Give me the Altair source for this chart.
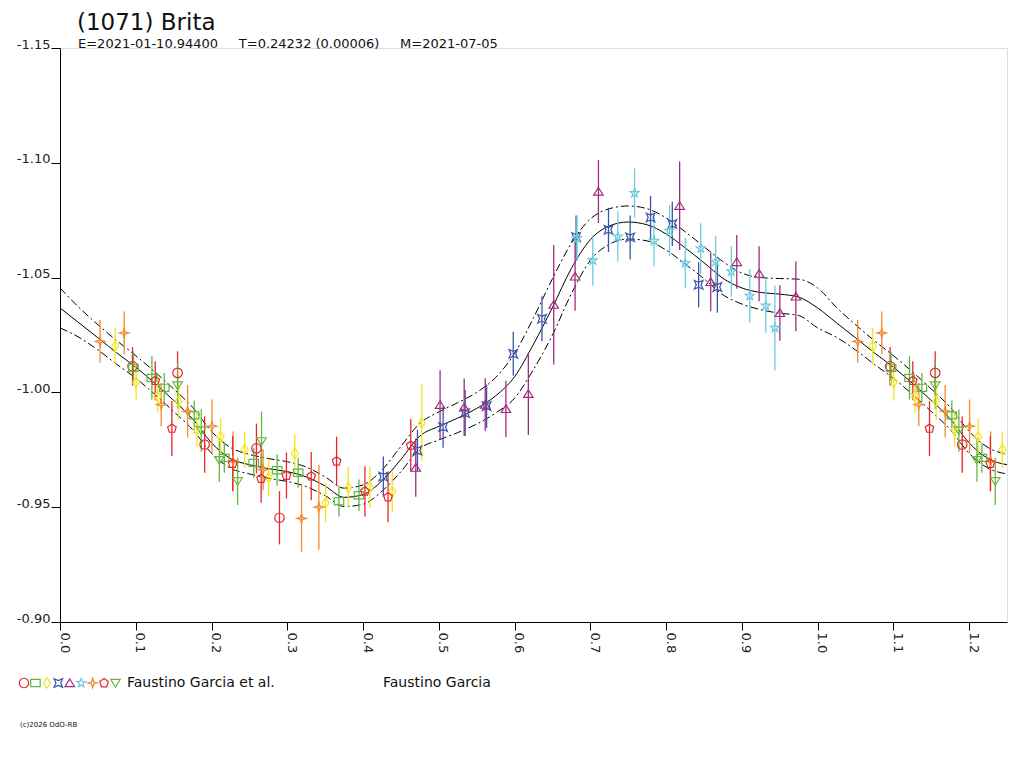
import altair as alt
import pandas as pd

FONT = "DejaVu Sans"

# ---------------- observations (phase, reduced magnitude, error) ----------------
rc_phase = [0.0957, 0.1552, 0.1909, 0.2593, 0.2897]
rc_mag = [-1.0114, -1.0085, -0.9773, -0.9756, -0.9454]
rc_err = [0.0084, 0.0094, 0.0123, 0.0108, 0.0116]

gs_phase = [0.0970, 0.1213, 0.1376, 0.1772, 0.2169, 0.2557, 0.2866, 0.3144, 0.3682, 0.3946]
gs_mag = [-1.0107, -1.0063, -1.0020, -0.9900, -0.9715, -0.9693, -0.9661, -0.9650, -0.9526, -0.9552]
gs_err = [0.0070, 0.0094, 0.0064, 0.0065, 0.0065, 0.0065, 0.0068, 0.0065, 0.0067, 0.0069]

yd_phase = [0.0728, 0.1005, 0.1287, 0.1565, 0.1808, 0.2120, 0.2438, 0.2755, 0.3099, 0.3505,
            0.3805, 0.4091, 0.4387, 0.4775]
yd_mag = [-1.0201, -1.0044, -0.9983, -0.9961, -0.9838, -0.9807, -0.9751, -0.9630, -0.9734, -0.9519,
          -0.9587, -0.9587, -0.9567, -0.9867]
yd_err = [0.0080, 0.0080, 0.0069, 0.0080, 0.0076, 0.0080, 0.0080, 0.0081, 0.0083, 0.0085,
          0.0088, 0.0090, 0.0090, 0.0167]

bx_phase = [0.4268, 0.4718, 0.5057, 0.5348, 0.5631, 0.5983, 0.6362, 0.6812, 0.7240, 0.7526,
            0.7795, 0.8082, 0.8430, 0.8677]
bx_mag = [-0.9633, -0.9747, -0.9849, -0.9910, -0.9940, -1.0168, -1.0321, -1.0677, -1.0708, -1.0675,
          -1.0762, -1.0734, -1.0469, -1.0459]
bx_err = [0.0088, 0.0090, 0.0090, 0.0100, 0.0094, 0.0096, 0.0098, 0.0094, 0.0096, 0.0096,
          0.0094, 0.0096, 0.0098, 0.0112]

pt_phase = [0.4696, 0.5017, 0.5335, 0.5613, 0.5886, 0.6182, 0.6517, 0.6799, 0.7107, 0.8179,
            0.8589, 0.8933, 0.9228, 0.9502, 0.9713]
pt_mag = [-0.9672, -0.9946, -0.9935, -0.9947, -0.9928, -0.9994, -1.0382, -1.0505, -1.0875, -1.0813,
          -1.0481, -1.0568, -1.0517, -1.0346, -1.0418]
pt_err = [0.0127, 0.0150, 0.0125, 0.0115, 0.0123, 0.0180, 0.0260, 0.0149, 0.0137, 0.0193,
          0.0128, 0.0117, 0.0120, 0.0121, 0.0152]

cs_phase = [0.6825, 0.7033, 0.7363, 0.7584, 0.7840, 0.8046, 0.8254, 0.8457, 0.8655, 0.8862,
            0.9105, 0.9316, 0.9436]
cs_mag = [-1.0672, -1.0575, -1.0679, -1.0868, -1.0660, -1.0704, -1.0563, -1.0627, -1.0570, -1.0527,
          -1.0421, -1.0378, -1.0281]
cs_err = [0.0100, 0.0110, 0.0110, 0.0107, 0.0112, 0.0112, 0.0110, 0.0110, 0.0110, 0.0110,
          0.0117, 0.0118, 0.0184]

os_phase = [0.0529, 0.0847, 0.1336, 0.1684, 0.2006, 0.2284, 0.2681, 0.3188, 0.3417]
os_mag = [-1.0222, -1.0259, -0.9947, -0.9918, -0.9853, -0.9700, -0.9664, -0.9451, -0.9500]
os_err = [0.0093, 0.0093, 0.0094, 0.0114, 0.0116, 0.0130, 0.0090, 0.0145, 0.0185]

rp_phase = [0.1257, 0.1477, 0.2280, 0.2655, 0.2989, 0.3316, 0.3651, 0.4025, 0.4330, 0.4630]
rp_mag = [-1.0051, -0.9843, -0.9690, -0.9624, -0.9638, -0.9635, -0.9700, -0.9569, -0.9544, -0.9769]
rp_err = [0.0085, 0.0120, 0.0120, 0.0105, 0.0100, 0.0105, 0.0107, 0.0109, 0.0110, 0.0115]

gt_phase = [0.1552, 0.1865, 0.2103, 0.2345, 0.2660]
gt_mag = [-1.0030, -0.9834, -0.9705, -0.9613, -0.9787]
gt_err = [0.0100, 0.0093, 0.0094, 0.0103, 0.0130]

# ---------------- fitted curve and its uncertainty envelope ----------------
fit_phase = [0.000, 0.025, 0.050, 0.075, 0.100, 0.125, 0.150, 0.175, 0.200, 0.225,
             0.250, 0.275, 0.300, 0.325, 0.350, 0.375, 0.400, 0.425, 0.450, 0.475,
             0.500, 0.525, 0.550, 0.575, 0.600, 0.625, 0.650, 0.675, 0.700, 0.725,
             0.750, 0.775, 0.800, 0.825, 0.850, 0.875, 0.900, 0.925, 0.950, 0.975, 1.000]
fit_mag = [-1.0368, -1.0303, -1.0238, -1.0172, -1.0110, -1.0040, -0.9965, -0.9885, -0.9780, -0.9712,
           -0.9685, -0.9668, -0.9655, -0.9632, -0.9592, -0.9543, -0.9555, -0.9615, -0.9708, -0.9810,
           -0.9852, -0.9888, -0.9930, -0.9985, -1.0068, -1.0210, -1.0370, -1.0540, -1.0665, -1.0725,
           -1.0742, -1.0730, -1.0690, -1.0630, -1.0565, -1.0497, -1.0455, -1.0435, -1.0428, -1.0415,
           -1.0368]
fit_upper = [-1.0455, -1.0370, -1.0295, -1.0225, -1.0160, -1.0090, -1.0015, -0.9935, -0.9830, -0.9760,
             -0.9730, -0.9712, -0.9698, -0.9675, -0.9632, -0.9583, -0.9597, -0.9662, -0.9765, -0.9865,
             -0.9915, -0.9955, -1.0000, -1.0065, -1.0170, -1.0325, -1.0495, -1.0650, -1.0755, -1.0800,
             -1.0812, -1.0800, -1.0760, -1.0700, -1.0635, -1.0570, -1.0520, -1.0500, -1.0496, -1.0493,
             -1.0455]
fit_lower = [-1.0281, -1.0240, -1.0185, -1.0122, -1.0062, -0.9992, -0.9917, -0.9838, -0.9735, -0.9670,
             -0.9645, -0.9626, -0.9612, -0.9590, -0.9550, -0.9503, -0.9513, -0.9570, -0.9655, -0.9755,
             -0.9793, -0.9825, -0.9862, -0.9910, -0.9975, -1.0100, -1.0250, -1.0430, -1.0575, -1.0645,
             -1.0668, -1.0660, -1.0620, -1.0560, -1.0495, -1.0425, -1.0385, -1.0360, -1.0345, -1.0335,
             -1.0281]

SERIES = ["red circle", "green square", "yellow diamond", "blue cross", "purple triangle",
          "cyan star", "orange star", "red pentagon", "green triangle"]
COLORS = ["#E8262B", "#5CB840", "#F2E61A", "#3A56A8", "#A02C7E",
          "#6CCCDD", "#F28A30", "#E8262B", "#6BB840"]
SHAPES = [
    "circle",
    "M-1,-0.75L1,-0.75L1,0.75L-1,0.75Z",
    "M0,-1.1L0.75,0L0,1.1L-0.75,0Z",
    "M-0.9,-0.9L0,-0.5L0.9,-0.9L0.5,0L0.9,0.9L0,0.5L-0.9,0.9L-0.5,0Z",
    "M0,-0.85L1,0.75L-1,0.75Z",
    "M0,-1L0.235,-0.324L0.951,-0.309L0.38,0.124L0.588,0.809L0,0.4L-0.588,0.809L-0.38,0.124L-0.951,-0.309L-0.235,-0.324Z",
    "M0,-1L0.22,-0.22L1,0L0.22,0.22L0,1L-0.22,0.22L-1,0L-0.22,-0.22Z",
    "M0,-0.95L0.9,-0.3L0.56,0.8L-0.56,0.8L-0.9,-0.3Z",
    "M-1,-0.75L1,-0.75L0,0.85Z",
]
LEGEND_TITLE = "Faustino Garcia et al."
OBSERVER = "Faustino Garcia"

groups = [
    (rc_phase, rc_mag, rc_err), (gs_phase, gs_mag, gs_err), (yd_phase, yd_mag, yd_err),
    (bx_phase, bx_mag, bx_err), (pt_phase, pt_mag, pt_err), (cs_phase, cs_mag, cs_err),
    (os_phase, os_mag, os_err), (rp_phase, rp_mag, rp_err), (gt_phase, gt_mag, gt_err),
]
rows = []
for name, (ph, mg, er) in zip(SERIES, groups):
    for p, m, e in zip(ph, mg, er):
        rows.append({"phase": p, "mag": m, "lo": m - e, "hi": m + e, "series": name})
        if p <= 0.25:  # phase diagram is repeated beyond 1.0
            rows.append({"phase": p + 1, "mag": m, "lo": m - e, "hi": m + e, "series": name})
obs = pd.DataFrame(rows)

fit = pd.DataFrame({"phase": fit_phase, "fit": fit_mag, "upper": fit_upper, "lower": fit_lower})
fit_ext = fit[(fit.phase > 0) & (fit.phase <= 0.25)].copy()
fit_ext["phase"] = fit_ext["phase"] + 1
fit = pd.concat([fit, fit_ext], ignore_index=True)

MINUS = "\u2212"
x_enc = alt.X(
    "phase:Q",
    scale=alt.Scale(domain=[0, 1.25], nice=False, zero=False),
    axis=alt.Axis(
        title=None,
        values=[round(i * 0.05, 2) for i in range(26)],
        labelExpr="abs(datum.value*10 - round(datum.value*10)) < 0.001 ? format(datum.value, '.1f') : ''",
        labelAngle=90, labelAlign="left", labelBaseline="alphabetic",
        tickSize=8, labelPadding=2, labelFont=FONT, labelFontSize=13, labelColor="#222",
        domainColor="black", tickColor="black", grid=False,
        labelOverlap=False, labelFlush=False, labelBound=False,
    ),
)
y_axis = alt.Axis(
    title=None,
    values=[-1.15, -1.10, -1.05, -1.00, -0.95, -0.90],
    labelExpr="replace(format(datum.value, '.2f'), '" + MINUS + "', '-')",
    labelBaseline="alphabetic", labelAlign="right",
    tickSize=9, labelPadding=1, labelFont=FONT, labelFontSize=13, labelColor="#222",
    domainColor="black", tickColor="black", grid=False,
    labelOverlap=False, labelFlush=False, labelBound=False,
)
y_scale = alt.Scale(domain=[-1.15, -0.90], reverse=True, nice=False, zero=False)

base_fit = alt.Chart(fit)
solid = base_fit.mark_line(color="black", strokeWidth=1, interpolate="monotone").encode(
    x=x_enc, y=alt.Y("fit:Q", scale=y_scale, axis=y_axis))
upper = base_fit.mark_line(color="black", strokeWidth=1, strokeDash=[8, 3, 2, 3],
                           interpolate="monotone").encode(x="phase:Q", y="upper:Q")
lower = base_fit.mark_line(color="black", strokeWidth=1, strokeDash=[8, 3, 2, 3],
                           interpolate="monotone").encode(x="phase:Q", y="lower:Q")

color_scale = alt.Scale(domain=SERIES, range=COLORS)
shape_scale = alt.Scale(domain=SERIES, range=SHAPES)

bars = alt.Chart(obs).mark_rule(strokeWidth=1.3).encode(
    x="phase:Q", y="lo:Q", y2="hi:Q",
    color=alt.Color("series:N", scale=color_scale, legend=None))

points = alt.Chart(obs).mark_point(filled=False, size=90, strokeWidth=1.2, opacity=1).encode(
    x="phase:Q", y="mag:Q",
    color=alt.Color("series:N", scale=color_scale, legend=None),
    shape=alt.Shape("series:N", scale=shape_scale, legend=None))


def note(text, x, y, size, baseline="alphabetic"):
    return alt.Chart(pd.DataFrame({"t": [text]})).mark_text(
        align="left", baseline=baseline, font=FONT, fontSize=size, color="#111"
    ).encode(text="t:N", x=alt.value(x), y=alt.value(y))


NB = "\u00a0" * 5
title = note("(1071) Brita", 17, -18.5, 23)
subtitle = note("E=2021-01-10.94400" + NB + "T=0.24232 (0.00006)" + NB + "M=2021-07-05", 18, -0.5, 13)
legend_title = note(LEGEND_TITLE, 67, 635, 14, baseline="middle")
observer = note(OBSERVER, 323, 635, 14, baseline="middle")
copyright_ = note("(c)2026 OdO-RB", -40, 677, 7, baseline="middle")

main = alt.layer(solid, upper, lower, bars, points, title, subtitle, legend_title, observer, copyright_)

# symbol key below the plot: one symbol per series, laid out by a small index scale
key = pd.DataFrame({"series": SERIES, "k": list(range(len(SERIES)))})
key_layer = alt.Chart(key).mark_point(filled=False, size=90, strokeWidth=1.2, opacity=1).encode(
    x=alt.X("k:Q", scale=alt.Scale(domain=[0, 8], range=[-36, 55.5]), axis=None),
    y=alt.value(635),
    color=alt.Color("series:N", scale=color_scale, legend=None),
    shape=alt.Shape("series:N", scale=shape_scale, legend=None))

chart = alt.layer(main, key_layer).resolve_scale(x="independent").properties(
    width=947, height=574,
    autosize=alt.AutoSizeParams(type="none"),
    padding={"left": 52, "top": 40, "right": 5, "bottom": 130},
).configure_view(stroke=None).configure(background="white")

chart.save("out.html", embed_options={"renderer": "svg", "actions": False})
